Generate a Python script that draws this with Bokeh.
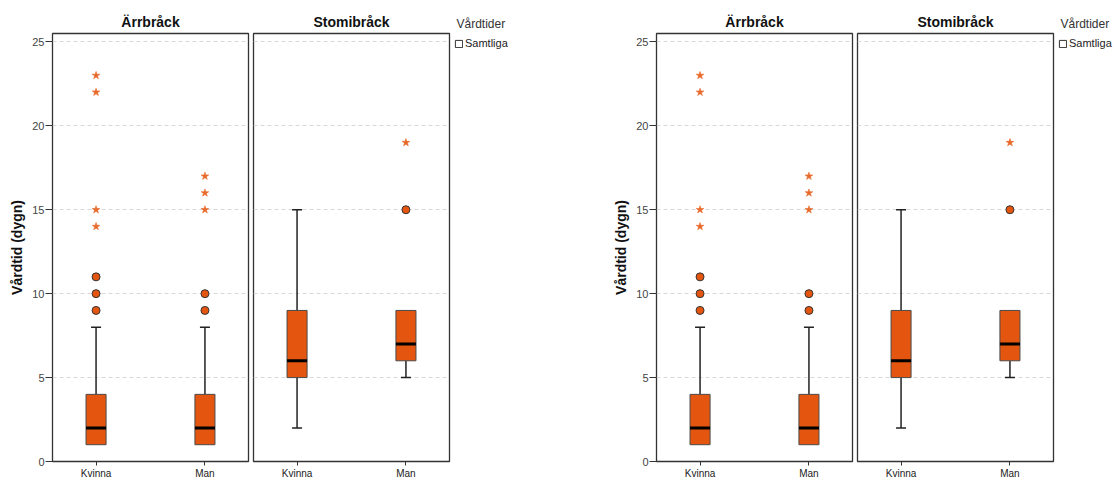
from bokeh.plotting import figure
from bokeh.layouts import row
from bokeh.models import (ColumnDataSource, Range1d, FixedTicker, Legend, LegendItem)
from bokeh.embed import file_html
from bokeh.resources import INLINE

# ---------------- data ----------------
categories = ["Kvinna", "Man"]
panels = ["Ärrbråck", "Stomibråck"]
y_label = "Vårdtid (dygn)"
legend_title = "Vårdtider"
legend_label = "Samtliga"
y_ticks = [0, 5, 10, 15, 20, 25]

# Ärrbråck box statistics (Kvinna, Man)
arr_low = [1, 1]
arr_q1 = [1, 1]
arr_median = [2, 2]
arr_q3 = [4, 4]
arr_high = [8, 8]
arr_circle_cat = ["Kvinna", "Kvinna", "Kvinna", "Man", "Man"]
arr_circle_val = [9, 10, 11, 9, 10]
arr_star_cat = ["Kvinna", "Kvinna", "Kvinna", "Kvinna", "Man", "Man", "Man"]
arr_star_val = [14, 15, 22, 23, 15, 16, 17]

# Stomibråck box statistics (Kvinna, Man)
stomi_low = [2, 5]
stomi_q1 = [5, 6]
stomi_median = [6, 7]
stomi_q3 = [9, 9]
stomi_high = [15, 9]
stomi_circle_cat = ["Man"]
stomi_circle_val = [15]
stomi_star_cat = ["Man"]
stomi_star_val = [19]

# ---------------- style ----------------
FONT = "Liberation Sans"
BOX = "#E4560F"
STAR = "#E8692A"
DARK = "#222222"
BOX_W = 0.184
CAP_W = 0.092
H = 481
TOP = 33
BOTTOM = 19
FRAME_W = 196

pos = {c: i + 1 for i, c in enumerate(categories)}


def make_panel(title, low, q1, med, q3, high, ccat, cval, scat, sval,
               left_axis, width, border_left, border_right):
    p = figure(width=width, height=H, output_backend="svg", toolbar_location=None,
               x_range=Range1d(0.6, 2.4), y_range=Range1d(0, 25.5),
               y_axis_location="left" if left_axis else None,
               min_border_left=border_left, min_border_right=border_right,
               min_border_top=TOP, min_border_bottom=BOTTOM,
               background_fill_color="white", border_fill_color="white")
    p.title.text = title
    p.title.text_font = FONT
    p.title.text_font_size = "14px"
    p.title.text_font_style = "bold"
    p.title.text_color = "#111111"
    p.title.align = "center"
    p.title.standoff = 7

    p.outline_line_color = "#333333"
    p.outline_line_width = 1.3
    p.outline_line_alpha = 1

    p.xgrid.visible = False
    p.ygrid.ticker = FixedTicker(ticks=y_ticks[1:])
    p.ygrid.grid_line_color = "#d8d8d8"
    p.ygrid.grid_line_dash = "4 3"
    p.ygrid.grid_line_width = 1

    xa = p.xaxis[0]
    xa.ticker = FixedTicker(ticks=[pos[c] for c in categories])
    xa.major_label_overrides = {pos[c]: c for c in categories}
    xa.axis_line_alpha = 0
    xa.major_tick_out = 4
    xa.major_tick_in = 0
    xa.minor_tick_line_color = None
    xa.major_tick_line_color = "#333333"
    xa.major_label_text_font = FONT
    xa.major_label_text_font_size = "10px"
    xa.major_label_text_color = "#222222"
    xa.major_label_standoff = 2

    if left_axis:
        ya = p.yaxis[0]
        ya.ticker = FixedTicker(ticks=y_ticks)
        ya.axis_line_alpha = 0
        ya.major_tick_out = 7
        ya.major_tick_in = 0
        ya.minor_tick_line_color = None
        ya.major_tick_line_color = "#333333"
        ya.major_label_text_font = FONT
        ya.major_label_text_font_size = "11px"
        ya.major_label_text_color = "#444444"
        ya.major_label_standoff = 1
        ya.axis_label = y_label
        ya.axis_label_text_font = FONT
        ya.axis_label_text_font_size = "14px"
        ya.axis_label_text_font_style = "bold"
        ya.axis_label_text_color = "#111111"
        ya.axis_label_standoff = 4

    x = [pos[c] for c in categories]
    src = ColumnDataSource(dict(
        x=x, low=low, q1=q1, med=med, q3=q3, high=high,
        ml=[v - BOX_W / 2 for v in x], mr=[v + BOX_W / 2 for v in x]))

    # whisker caps only where a whisker actually extends beyond the box
    cap_x, cap_y = [], []
    for xi, lo, a, b, hi in zip(x, low, q1, q3, high):
        if hi != b:
            cap_x.append(xi); cap_y.append(hi)
        if lo != a:
            cap_x.append(xi); cap_y.append(lo)
    caps = ColumnDataSource(dict(
        cl=[v - CAP_W / 2 for v in cap_x], cr=[v + CAP_W / 2 for v in cap_x], y=cap_y))

    p.segment(x0="x", y0="q3", x1="x", y1="high", source=src, line_color=DARK, line_width=1.5)
    p.segment(x0="x", y0="q1", x1="x", y1="low", source=src, line_color=DARK, line_width=1.5)
    p.vbar(x="x", width=BOX_W, bottom="q1", top="q3", source=src,
           fill_color=BOX, line_color="#4a4a4a", line_width=1)
    p.segment(x0="ml", y0="med", x1="mr", y1="med", source=src, line_color="black", line_width=3)
    p.segment(x0="cl", y0="y", x1="cr", y1="y", source=caps, line_color=DARK, line_width=1.5)

    if cval:
        p.scatter(x=[pos[c] for c in ccat], y=cval, marker="circle", size=8,
                  fill_color=BOX, line_color="#333333", line_width=1)
    if sval:
        p.scatter(x=[pos[c] for c in scat], y=sval, marker="star", size=8,
                  fill_color=STAR, line_color=STAR, line_width=0.6)
    return p


def make_legend_fig(width):
    lf = figure(width=width, height=H, output_backend="svg", toolbar_location=None,
                x_range=Range1d(0, 1), y_range=Range1d(0, 1),
                x_axis_location=None, y_axis_location=None,
                min_border=0, min_border_top=TOP,
                background_fill_color="white", border_fill_color="white")
    lf.outline_line_color = None
    lf.grid.visible = False
    # legend heading sits above the frame (as in the reference), so it is the title
    lf.title.text = legend_title
    lf.title.text_font = FONT
    lf.title.text_font_size = "12px"
    lf.title.text_font_style = "normal"
    lf.title.text_color = "#333333"
    lf.title.align = "left"
    lf.title.offset = 5
    lf.title.standoff = 6
    # placeholder renderer (out of view) that only provides the legend swatch
    dummy = lf.quad(left=[5], right=[6], bottom=[5], top=[6],
                    fill_color="white", line_color="#333333", line_width=1)
    lg = Legend(items=[LegendItem(label=legend_label, renderers=[dummy])],
                location=(3, 412),
                label_text_font=FONT, label_text_font_size="11px",
                label_text_color="#222222", label_standoff=2,
                glyph_width=9, glyph_height=9, label_height=12,
                padding=2, margin=0, spacing=0,
                border_line_color=None, background_fill_color=None)
    lf.add_layout(lg, "center")
    return lf


def make_copy(legend_w):
    a = make_panel(panels[0], arr_low, arr_q1, arr_median, arr_q3, arr_high,
                   arr_circle_cat, arr_circle_val, arr_star_cat, arr_star_val,
                   True, 52 + FRAME_W + 2, 52, 2)
    b = make_panel(panels[1], stomi_low, stomi_q1, stomi_median, stomi_q3, stomi_high,
                   stomi_circle_cat, stomi_circle_val, stomi_star_cat, stomi_star_val,
                   False, 3 + FRAME_W + 2, 3, 2)
    lf = make_legend_fig(legend_w)
    return [a, b, lf]


children = make_copy(153) + make_copy(59)
layout = row(children, spacing=0)

open("out.html", "w").write(file_html(layout, INLINE))
